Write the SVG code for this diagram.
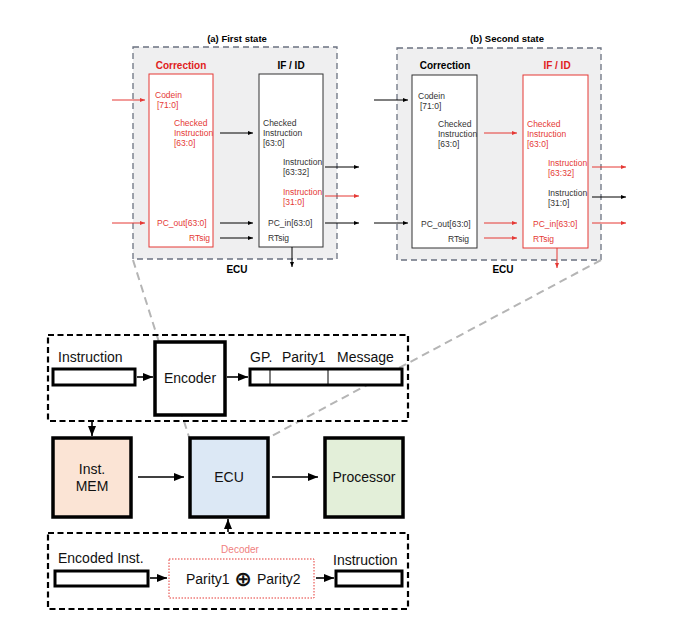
<svg xmlns="http://www.w3.org/2000/svg" width="679" height="634" viewBox="0 0 679 634">
<defs>
<marker id="ak" viewBox="0 0 10 10" refX="10" refY="5" markerWidth="5" markerHeight="5" orient="auto" markerUnits="userSpaceOnUse"><path d="M0,1 L10,5 L0,9 z" fill="#000"/></marker>
<marker id="ar" viewBox="0 0 10 10" refX="10" refY="5" markerWidth="5" markerHeight="5" orient="auto" markerUnits="userSpaceOnUse"><path d="M0,1 L10,5 L0,9 z" fill="#e53935"/></marker>
<marker id="ab" viewBox="0 0 10 10" refX="10" refY="5" markerWidth="10" markerHeight="10" orient="auto" markerUnits="userSpaceOnUse"><path d="M0,1 L10,5 L0,9 z" fill="#000"/></marker>
<style>
text{font-family:"Liberation Sans",Arial,sans-serif;}
.t{font-size:8.5px;fill:#333;}
.tr{font-size:8.5px;fill:#e53935;}
.hd{font-size:10px;font-weight:bold;fill:#000;}
.hr{font-size:10px;font-weight:bold;fill:#e02020;}
.ttl{font-size:9.5px;font-weight:bold;fill:#000;}
.panel{fill:#efeff0;stroke:#6b7280;stroke-width:1.3;stroke-dasharray:6,4;}
.bk{fill:#fff;stroke:#333;stroke-width:1;}
.rd{fill:#fff;stroke:#e53935;stroke-width:1;}
.lk{stroke:#000;stroke-width:1;fill:none;marker-end:url(#ak);}
.lr{stroke:#e53935;stroke-width:1;fill:none;marker-end:url(#ar);}
.big{font-size:14px;fill:#111;}
.thick{fill:#fff;stroke:#000;stroke-width:3.5;}
.bar{fill:#fff;stroke:#000;stroke-width:3;}
.dbox{fill:none;stroke:#000;stroke-width:2.2;stroke-dasharray:6,3.5;}
.la{stroke:#000;stroke-width:1.6;fill:none;marker-end:url(#ab);}
.gl{stroke:#b5b5b5;stroke-width:2;stroke-dasharray:8,5;fill:none;}
</style>
</defs>

<!-- Panel (a) -->
<g id="panel-a">
<text class="ttl" x="237" y="42" text-anchor="middle">(a) First state</text>
<rect class="panel" x="133" y="47" width="204" height="212"/>
<text class="hd" x="237" y="273" text-anchor="middle">ECU</text>
</g>
<g id="a-correction">
<rect class="rd" x="149" y="74" width="64" height="173"/>
<text class="hr" x="181" y="69" text-anchor="middle">Correction</text>
<text class="tr" x="155" y="98">Codein</text>
<text class="tr" x="157" y="108">[71:0]</text>
<text class="tr" x="174" y="126">Checked</text>
<text class="tr" x="174" y="136">Instruction</text>
<text class="tr" x="174" y="146">[63:0]</text>
<text class="tr" x="157" y="226">PC_out[63:0]</text>
<text class="tr" x="210" y="241" text-anchor="end">RTsig</text>
</g>
<g id="a-ifid">
<rect class="bk" x="259" y="74" width="64" height="173"/>
<text class="hd" x="291" y="69" text-anchor="middle">IF / ID</text>
<text class="t" x="263" y="126">Checked</text>
<text class="t" x="263" y="136">Instruction</text>
<text class="t" x="263" y="146">[63:0]</text>
<text class="t" x="283" y="165">Instruction</text>
<text class="t" x="283" y="175">[63:32]</text>
<text class="tr" x="283" y="195">Instruction</text>
<text class="tr" x="283" y="205">[31:0]</text>
<text class="t" x="268" y="226">PC_in[63:0]</text>
<text class="t" x="268" y="241">RTsig</text>
</g>

<!-- Panel (b) -->
<g id="panel-b">
<text class="ttl" x="507" y="42" text-anchor="middle">(b) Second state</text>
<rect class="panel" x="397" y="48" width="204" height="212"/>
<text class="hd" x="503" y="273" text-anchor="middle">ECU</text>
</g>
<g id="b-correction">
<rect class="bk" x="412" y="75" width="65" height="173"/>
<text class="hd" x="445" y="69" text-anchor="middle">Correction</text>
<text class="t" x="418" y="99">Codein</text>
<text class="t" x="420" y="109">[71:0]</text>
<text class="t" x="438" y="127">Checked</text>
<text class="t" x="438" y="137">Instruction</text>
<text class="t" x="438" y="147">[63:0]</text>
<text class="t" x="421" y="227">PC_out[63:0]</text>
<text class="t" x="469" y="242" text-anchor="end">RTsig</text>
</g>
<g id="b-ifid">
<rect class="rd" x="523" y="75" width="65" height="173"/>
<text class="hr" x="557" y="69" text-anchor="middle">IF / ID</text>
<text class="tr" x="527" y="127">Checked</text>
<text class="tr" x="527" y="137">Instruction</text>
<text class="tr" x="527" y="147">[63:0]</text>
<text class="tr" x="548" y="166">Instruction</text>
<text class="tr" x="548" y="176">[63:32]</text>
<text class="t" x="548" y="196">Instruction</text>
<text class="t" x="548" y="206">[31:0]</text>
<text class="tr" x="533" y="227">PC_in[63:0]</text>
<text class="tr" x="533" y="242">RTsig</text>
</g>

<!-- Zoom guide lines -->
<g id="guides">
<line class="gl" x1="133" y1="260" x2="189" y2="437"/>
<line class="gl" x1="601" y1="260" x2="268" y2="438"/>
</g>

<!-- Bottom: encoder section -->
<g id="encoder-section">
<rect class="dbox" x="48" y="335" width="360" height="86"/>
<text class="big" x="58" y="362">Instruction</text>
<rect class="bar" x="53" y="369" width="82" height="16"/>
<text class="big" x="250" y="362">GP.</text>
<text class="big" x="282" y="362">Parity1</text>
<text class="big" x="337" y="362">Message</text>
<rect class="bar" x="250" y="369" width="152" height="16"/>
<line x1="270" y1="369" x2="270" y2="385" stroke="#000" stroke-width="1"/>
<line x1="328" y1="369" x2="328" y2="385" stroke="#000" stroke-width="1"/>
</g>
<g id="encoder">
<rect class="thick" x="155" y="342" width="70" height="73"/>
<text class="big" x="190" y="383" text-anchor="middle">Encoder</text>
</g>

<g id="inst-mem">
<rect x="53" y="438" width="78" height="79" fill="#fbe4d5" stroke="#000" stroke-width="3.5"/>
<text class="big" x="92" y="474" text-anchor="middle">Inst.</text>
<text class="big" x="92" y="491" text-anchor="middle">MEM</text>
</g>
<g id="ecu">
<rect x="190" y="438" width="78" height="79" fill="#dce8f5" stroke="#000" stroke-width="3.5"/>
<text class="big" x="229" y="482" text-anchor="middle">ECU</text>
</g>
<g id="processor">
<rect x="325" y="438" width="78" height="79" fill="#e3efd9" stroke="#000" stroke-width="3.5"/>
<text class="big" x="364" y="482" text-anchor="middle">Processor</text>
</g>

<g id="decoder-section">
<rect class="dbox" x="48" y="533" width="360" height="76"/>
<text class="big" x="58" y="563">Encoded Inst.</text>
<rect class="bar" x="55" y="571" width="93" height="15"/>
<text class="big" x="333" y="565">Instruction</text>
<rect class="bar" x="336" y="571" width="66" height="15"/>
</g>
<g id="decoder">
<rect x="169" y="559" width="145" height="39" fill="#fff" stroke="#e53935" stroke-width="1" stroke-dasharray="1.5,1.5"/>
<text x="240" y="553" text-anchor="middle" style="font-size:10px;fill:#f08080">Decoder</text>
<text class="big" x="186" y="584">Parity1</text>
<text x="243" y="586" text-anchor="middle" style="font-size:21px;font-weight:bold;fill:#111;font-family:'DejaVu Sans',sans-serif">⊕</text>
<text class="big" x="257" y="584">Parity2</text>
</g>

<!-- Connectors -->
<g id="connectors">
<line class="lr" x1="112" y1="100" x2="145" y2="100"/>
<line class="lr" x1="112" y1="223" x2="145" y2="223"/>
<line class="lk" x1="220" y1="133" x2="253" y2="133"/>
<line class="lk" x1="220" y1="223" x2="253" y2="223"/>
<line class="lk" x1="220" y1="238" x2="253" y2="238"/>
<line class="lk" x1="325" y1="167" x2="359" y2="167"/>
<line class="lr" x1="325" y1="196" x2="359" y2="196"/>
<line class="lk" x1="325" y1="223" x2="359" y2="223"/>
<line class="lk" x1="292" y1="247" x2="292" y2="267"/>
<line class="lk" x1="374" y1="100" x2="408" y2="100"/>
<line class="lk" x1="374" y1="223" x2="408" y2="223"/>
<line class="lr" x1="484" y1="133" x2="517" y2="133"/>
<line class="lr" x1="484" y1="223" x2="517" y2="223"/>
<line class="lr" x1="484" y1="238" x2="517" y2="238"/>
<line class="lr" x1="592" y1="167" x2="626" y2="167"/>
<line class="lk" x1="592" y1="197" x2="626" y2="197"/>
<line class="lr" x1="592" y1="223" x2="626" y2="223"/>
<line class="lr" x1="557" y1="248" x2="557" y2="268"/>
<line class="la" x1="137" y1="377" x2="153" y2="377"/>
<line class="la" x1="227" y1="377" x2="248" y2="377"/>
<line class="la" x1="92" y1="422" x2="92" y2="436"/>
<line class="la" x1="138" y1="477" x2="184" y2="477"/>
<line class="la" x1="272" y1="477" x2="318" y2="477"/>
<line class="la" x1="228" y1="532" x2="228" y2="519"/>
<line class="la" x1="150" y1="578" x2="167" y2="578"/>
<line class="la" x1="316" y1="578" x2="334" y2="578"/>
</g>
</svg>
